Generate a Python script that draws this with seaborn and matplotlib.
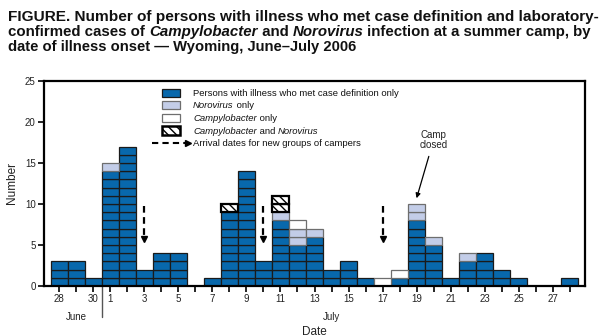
import matplotlib
matplotlib.use("Agg")
import matplotlib.pyplot as plt
import seaborn as sns
import numpy as np
import pandas as pd
from matplotlib.patches import Rectangle
from matplotlib.lines import Line2D
import matplotlib.transforms as mtransforms

# ---------------- data ----------------
months = ["June"] * 3 + ["July"] * 28
day_numbers = [28, 29, 30, 1, 2, 3, 4, 5, 6, 7, 8, 9, 10, 11, 12, 13, 14, 15, 16,
               17, 18, 19, 20, 21, 22, 23, 24, 25, 26, 27, 28]
definition_only = [3, 3, 1, 14, 17, 2, 4, 4, 0, 1, 9, 14, 3, 8, 5, 6, 2, 3, 1,
                   0, 1, 8, 5, 1, 3, 4, 2, 1, 0, 0, 1]
norovirus_only = [0, 0, 0, 1, 0, 0, 0, 0, 0, 0, 0, 0, 0, 1, 2, 1, 0, 0, 0,
                  0, 0, 2, 1, 0, 1, 0, 0, 0, 0, 0, 0]
campylobacter_only = [0, 0, 0, 0, 0, 0, 0, 0, 0, 0, 0, 0, 0, 0, 1, 0, 0, 0, 0,
                      1, 1, 0, 0, 0, 0, 0, 0, 0, 0, 0, 0]
campy_and_noro = [0, 0, 0, 0, 0, 0, 0, 0, 0, 0, 1, 0, 0, 2, 0, 0, 0, 0, 0,
                  0, 0, 0, 0, 0, 0, 0, 0, 0, 0, 0, 0]
arrival_dates = [("July", 3), ("July", 10), ("July", 17)]
camp_closed = ("July", 19)
x_tick_labels = ["28", "", "30", "1", "", "3", "", "5", "", "7", "", "9", "", "11", "",
                 "13", "", "15", "", "17", "", "19", "", "21", "", "23", "", "25", "",
                 "27", ""]
y_ticks = [0, 5, 10, 15, 20, 25]

categories = ["Persons with illness who met case definition only",
              "Norovirus only", "Campylobacter only", "Campylobacter and Norovirus"]
series = [definition_only, norovirus_only, campylobacter_only, campy_and_noro]

# ---------------- style ----------------
sns.set_theme(style="ticks")
plt.rcParams["font.family"] = ["Liberation Sans", "DejaVu Sans"]

BLUE = "#0868ac"
LIGHT = "#c3cde8"
W, H = 604, 336
fig = plt.figure(figsize=(W / 100, H / 100), dpi=100)
ax = fig.add_axes([44 / W, 1 - 286 / H, (585 - 44) / W, (286 - 81) / H])

styles = {
    categories[0]: dict(facecolor=BLUE, edgecolor="#1a1a1a", linewidth=0.9, hatch=None),
    categories[1]: dict(facecolor=LIGHT, edgecolor="#6e6e6e", linewidth=0.9, hatch=None),
    categories[2]: dict(facecolor="white", edgecolor="#6e6e6e", linewidth=0.9, hatch=None),
    categories[3]: dict(facecolor="white", edgecolor="black", linewidth=1.6, hatch="\\\\\\\\"),
}

# long-format table of single cases (each case is one block)
rows = []
for i in range(len(day_numbers)):
    level = 0
    for cat, vals in zip(categories, series):
        for _ in range(vals[i]):
            rows.append(dict(day=i, category=cat, level=level))
            level += 1
units = pd.DataFrame(rows)

plt.rcParams["hatch.linewidth"] = 1.0
for cat in categories:
    sub = units[units.category == cat]
    st = styles[cat]
    ax.bar(sub.day, 1, bottom=sub.level, width=1.0, facecolor=st["facecolor"],
           edgecolor=st["edgecolor"], linewidth=st["linewidth"], hatch=st["hatch"],
           zorder=3 if cat == categories[3] else 2)

# ---------------- axes ----------------
n = len(day_numbers)
ax.set_xlim(-0.9, n - 0.1)
ax.set_ylim(0, 25)
ax.set_yticks(y_ticks)
ax.set_yticklabels([str(v) for v in y_ticks], fontsize=7, color="#222222")
ax.set_xticks(range(n))
ax.set_xticklabels(x_tick_labels, fontsize=7, color="#222222")
ax.tick_params(axis="both", direction="out", length=4, width=1.2, color="black", pad=2)
for s in ax.spines.values():
    s.set_linewidth(1.6)
    s.set_color("black")
ax.set_ylabel("Number", fontsize=8.5, labelpad=5, color="#222222")
ax.grid(False)

# June / July separator and month labels
trans = mtransforms.blended_transform_factory(ax.transData, ax.transAxes)
sep = months.index("July") - 0.5
ax.plot([sep, sep], [0, -0.15], transform=trans, color="#555555", lw=1.0, clip_on=False)
june_idx = [i for i, m in enumerate(months) if m == "June"]
ax.text(np.mean(june_idx), -0.15, "June", transform=trans, ha="center", va="center",
        fontsize=7, color="#222222")
ax.text(16, -0.15, "July", transform=trans, ha="center", va="center",
        fontsize=7, color="#222222")
ax.text(0.5, -0.222, "Date", transform=ax.transAxes, ha="center", va="center",
        fontsize=8.5, color="#222222")


def idx_of(m, d):
    for i, (mm, dd) in enumerate(zip(months, day_numbers)):
        if mm == m and dd == d:
            return i


# arrival arrows
for m, d in arrival_dates:
    xi = idx_of(m, d)
    ax.plot([xi, xi], [9.8, 6.0], color="black", lw=1.6, ls=(0, (3, 2)), zorder=4)
    ax.plot([xi], [5.7], marker="v", color="black", markersize=4.5, zorder=4)

# camp closed annotation
ci = idx_of(*camp_closed)
ax.annotate("Camp\nclosed", xy=(ci, 10.7), xytext=(ci + 1, 17.8), ha="center",
            va="center", fontsize=7, color="#222222", linespacing=1.1,
            arrowprops=dict(arrowstyle="-|>", color="black", lw=0.9,
                            mutation_scale=7, shrinkA=2, shrinkB=0))

# ---------------- legend (drawn in pixel layout) ----------------
def fx(x):
    return x / W


def fy(y):
    return 1 - y / H


renderer = fig.canvas.get_renderer()


def rich(x, y, pieces, size, weight="normal", draw=True):
    x0 = x
    for txt, style in pieces:
        t = fig.text(fx(x), fy(y), txt, fontsize=size, fontweight=weight,
                     fontstyle=style, ha="left", va="baseline", color="#111111")
        x += t.get_window_extent(renderer).width
        if not draw:
            t.remove()
    return x - x0


leg_rows = [92.7, 105.2, 117.7, 130.5, 143.0]
leg_labels = [
    [(categories[0], "normal")],
    [("Norovirus", "italic"), (" only", "normal")],
    [("Campylobacter", "italic"), (" only", "normal")],
    [("Campylobacter", "italic"), (" and ", "normal"), ("Norovirus", "italic")],
    [("Arrival dates for new groups of campers", "normal")],
]
for k, cat in enumerate(categories):
    st = styles[cat]
    y = leg_rows[k]
    r = Rectangle((fx(162), fy(y + 4)), 18 / W, 8 / H, transform=fig.transFigure,
                  facecolor=st["facecolor"], edgecolor=st["edgecolor"],
                  linewidth=st["linewidth"] if k < 3 else 1.8, hatch=st["hatch"])
    fig.add_artist(r)
for k, pieces in enumerate(leg_labels):
    rich(193, leg_rows[k] + 3, pieces, 6.8)
ya = fy(leg_rows[4])
fig.add_artist(Line2D([fx(152), fx(186)], [ya, ya], transform=fig.transFigure,
                      color="black", lw=1.5, ls=(0, (3, 2))))
fig.add_artist(Line2D([fx(187.5)], [ya], transform=fig.transFigure, marker=">",
                      color="black", markersize=4.5))

# ---------------- title ----------------
title_lines = [
    [("FIGURE. Number of persons with illness who met case definition and laboratory-", "normal")],
    [("confirmed cases of ", "normal"), ("Campylobacter", "italic"), (" and ", "normal"),
     ("Norovirus", "italic"), (" infection at a summer camp, by", "normal")],
    [("date of illness onset \u2014 Wyoming, June\u2013July 2006", "normal")],
]
title_widths = [590, 586, 350]
for k, pieces in enumerate(title_lines):
    w = rich(8, 20.5 + 15.5 * k, pieces, 11.0, weight="bold", draw=False)
    size = min(11.1, 11.0 * title_widths[k] / w)
    rich(8, 20.5 + 15.5 * k, pieces, size, weight="bold")

fig.savefig("out.png", dpi=100)
